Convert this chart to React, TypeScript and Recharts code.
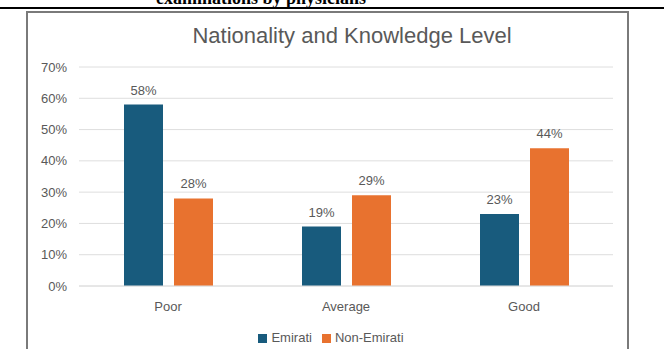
import React from 'react';
import { BarChart, Bar, XAxis, YAxis, CartesianGrid, Legend, LabelList } from 'recharts';

const categories = ['Poor', 'Average', 'Good'];
const emirati = [58, 19, 23];
const nonEmirati = [28, 29, 44];
const yTicks = [0, 10, 20, 30, 40, 50, 60, 70];

const data = categories.map((name, i) => ({
  name,
  Emirati: emirati[i],
  'Non-Emirati': nonEmirati[i],
}));

const pct = (v: number) => `${v}%`;
const textColor = '#595959';

const App: React.FC = () => {
  return (
    <div style={{ position: 'absolute', left: 0, top: 0, width: 664, height: 349, background: '#fff', overflow: 'hidden' }}>
      {/* cut-off caption from the page above */}
      <div
        style={{
          position: 'absolute', left: 0, width: 522, top: -12, textAlign: 'center',
          fontFamily: '"Liberation Serif", serif', fontWeight: 'bold', fontSize: 18, color: '#000',
        }}
      >
        examinations by physicians
      </div>
      <div style={{ position: 'absolute', left: 0, top: 7, width: 664, height: 2, background: '#000' }} />
      <div
        style={{
          position: 'absolute', left: 26, top: 11, width: 599, height: 360,
          border: '2px solid #7a7a7a', borderBottom: 'none',
        }}
      />
      <div
        style={{
          position: 'absolute', left: 0, top: 23, width: 704, textAlign: 'center',
          fontFamily: '"Liberation Sans", Arial, sans-serif', fontSize: 22, color: textColor,
        }}
      >
        Nationality and Knowledge Level
      </div>
      <div style={{ position: 'absolute', left: 0, top: 0 }}>
        <BarChart
          width={664}
          height={349}
          data={data}
          margin={{ top: 67, right: 51, left: 0, bottom: 18 }}
          barGap={11}
          barSize={39}
          style={{ fontFamily: '"Liberation Sans", Arial, sans-serif' }}
        >
          <CartesianGrid vertical={false} stroke="#dedede" />
          <XAxis
            dataKey="name"
            tickLine={false}
            axisLine={{ stroke: '#dedede' }}
            tick={{ fill: textColor, fontSize: 13 }}
            tickMargin={10}
            height={30}
          />
          <YAxis
            width={79}
            domain={[0, 70]}
            ticks={yTicks}
            tickFormatter={pct}
            axisLine={false}
            tickLine={false}
            tickSize={0}
            tickMargin={12}
            tick={{ fill: textColor, fontSize: 13 }}
          />
          <Legend
            verticalAlign="bottom"
            iconType="square"
            iconSize={9}
            wrapperStyle={{ left: 0, width: 672, bottom: 4, fontSize: 13 }}
            formatter={(value) => <span style={{ color: textColor }}>{value}</span>}
          />
          <Bar dataKey="Emirati" fill="#185b7d" isAnimationActive={false}>
            <LabelList dataKey="Emirati" position="top" offset={10} formatter={pct} fill={textColor} fontSize={13} />
          </Bar>
          <Bar dataKey="Non-Emirati" fill="#e8722f" isAnimationActive={false}>
            <LabelList dataKey="Non-Emirati" position="top" offset={10} formatter={pct} fill={textColor} fontSize={13} />
          </Bar>
        </BarChart>
      </div>
    </div>
  );
};

export default App;
